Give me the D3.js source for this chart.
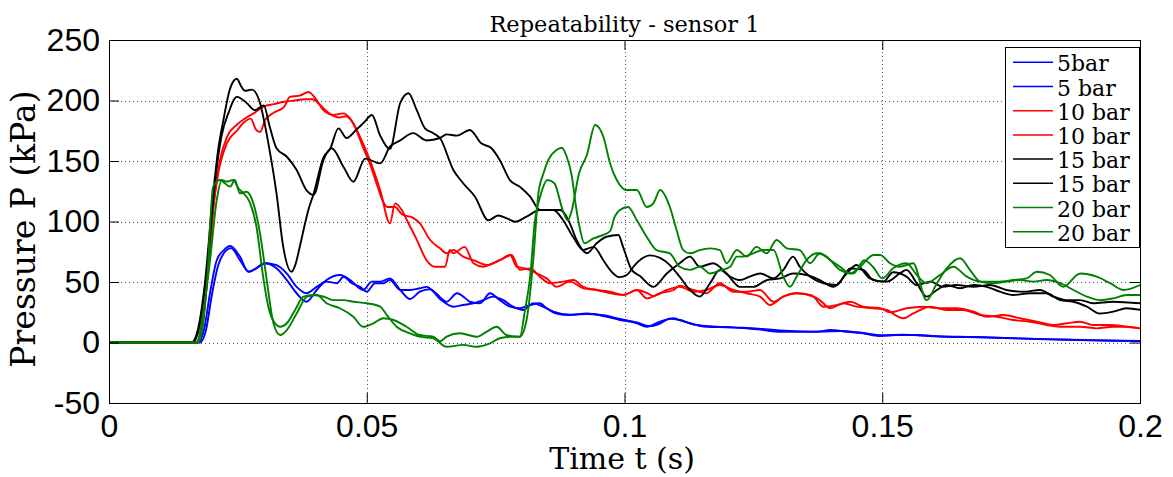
<!DOCTYPE html>
<html>
<head>
<meta charset="utf-8">
<script src="https://cdn.jsdelivr.net/npm/d3@7"></script>
<style>
body { margin: 0; background: #fff; }
.tick text { font-family: "Liberation Sans", Arial, sans-serif; font-size: 32px; fill: #000; }
.tick line { stroke: #000; }
.serif { font-family: "DejaVu Serif", serif; fill: #000; }
</style>
</head>
<body>
<svg id="chart" width="1173" height="477"></svg>
<script>
// axis ticks
var xTicks = [0, 0.05, 0.1, 0.15, 0.2];
var xTickLabels = ["0", "0.05", "0.1", "0.15", "0.2"];
var yTicks = [-50, 0, 50, 100, 150, 200, 250];
var yTickLabels = ["-50", "0", "50", "100", "150", "200", "250"];
var legendLabels = ["5bar", "5 bar", "10 bar", "10 bar", "15 bar", "15 bar", "20 bar", "20 bar"];

// [time (s), pressure (kPa)]
var blue1 = [[0,0],[0.0173,0],[0.0185,12],[0.0196,41],[0.0209,68],[0.0222,76],[0.0235,79.7],[0.0254,71],[0.0270,58.5],[0.0286,61.3],[0.0303,65.5],[0.0325,64],[0.0345,57],[0.0364,46],[0.0383,40.7],[0.0403,46],[0.0422,50.3],[0.0442,49],[0.0455,54.4],[0.0471,49],[0.0487,46],[0.0500,42],[0.0516,49],[0.0532,49],[0.0545,51.6],[0.0565,43.4],[0.0584,43.4],[0.0603,44.8],[0.0616,46],[0.0636,40],[0.0655,33.7],[0.0675,40.7],[0.0690,37],[0.0700,33.7],[0.0720,32.4],[0.0739,40.7],[0.0758,35],[0.0778,29.6],[0.0797,28.3],[0.0817,31],[0.0836,32.4],[0.0849,28.3],[0.0868,24],[0.0894,22.7],[0.0927,24],[0.0959,21.9],[0.0991,18.6],[0.1024,15.9],[0.1043,13],[0.1069,17.2],[0.1095,20],[0.1107,18.6],[0.1127,15.9],[0.1159,13],[0.1205,12.5],[0.1237,11.7],[0.1269,10.3],[0.1302,8.9],[0.1340,8.9],[0.1373,8.9],[0.1399,10.3],[0.1431,8.9],[0.1463,7.6],[0.1495,5.4],[0.1527,6.2],[0.1560,6.2],[0.1625,4.8],[0.1690,4.3],[0.1754,3.5],[0.1818,2.6],[0.1883,2],[0.1948,1.5],[0.2,1.2]];
var blue2 = [[0,0],[0.0176,0],[0.0188,10],[0.0199,38],[0.0212,64],[0.0225,75],[0.0237,78],[0.0254,68],[0.0272,58.5],[0.0303,65.5],[0.0325,61.3],[0.0345,51.6],[0.0364,40.7],[0.0383,33.7],[0.0403,43.4],[0.0422,51.6],[0.0448,55.8],[0.0468,51.6],[0.0493,43.4],[0.0510,50.3],[0.0526,50.3],[0.0545,53],[0.0565,43.4],[0.0584,36],[0.0603,42],[0.0622,44],[0.0642,36],[0.0668,29.6],[0.0687,31],[0.0707,32.4],[0.0726,35],[0.0745,37.9],[0.0765,35],[0.0784,29.6],[0.0804,26.9],[0.0823,32.4],[0.0842,29.6],[0.0862,25.5],[0.0894,23],[0.0927,23.5],[0.0959,22.5],[0.0991,19.5],[0.1024,16.5],[0.1049,13.5],[0.1068,15.5],[0.1088,19.5],[0.1107,18.6],[0.1133,15],[0.1165,13.5],[0.1211,12.5],[0.1260,11.5],[0.1300,10],[0.1340,9.2],[0.1380,9],[0.1420,9.5],[0.1460,8],[0.1500,6],[0.1540,6.5],[0.1600,5.2],[0.1680,4.5],[0.1750,3.6],[0.1820,2.8],[0.1900,2],[0.2,1.2]];
var red1 = [[0,0],[0.0168,0],[0.0180,12],[0.0192,60],[0.0202,110],[0.0212,140],[0.0229,165],[0.0248,175],[0.0262,182],[0.0275,185],[0.0285,176],[0.0293,174],[0.0303,184],[0.0320,190],[0.0340,195],[0.0351,203],[0.0370,204],[0.0387,207],[0.0400,202],[0.0416,192],[0.0435,188],[0.0455,189.4],[0.0468,185],[0.0487,170],[0.0506,151],[0.0526,126],[0.0545,98.5],[0.0555,115],[0.0568,109.5],[0.0578,101],[0.0597,85],[0.0616,68],[0.0632,62.6],[0.0652,62.6],[0.0661,76.4],[0.0668,73.7],[0.0690,79],[0.0707,65.5],[0.0726,62.6],[0.0745,65.5],[0.0765,69.6],[0.0781,72.3],[0.0797,60],[0.0817,61.3],[0.0836,54.4],[0.0855,49],[0.0881,50.3],[0.0901,51.6],[0.0920,46],[0.0946,43.4],[0.0972,42],[0.0998,39.3],[0.1024,43.4],[0.1043,36.5],[0.1069,40.7],[0.1095,43.4],[0.1107,47],[0.1134,43.4],[0.1159,40.7],[0.1185,49],[0.1211,42],[0.1237,42],[0.1263,43.4],[0.1289,33.7],[0.1308,37.9],[0.1334,40.7],[0.1360,39.3],[0.1379,35],[0.1399,28.3],[0.1425,32.4],[0.1450,29.6],[0.1483,28.3],[0.1509,26.9],[0.1528,22],[0.1541,20],[0.1560,24],[0.1593,29.6],[0.1625,26.9],[0.1657,26.9],[0.1690,22.7],[0.1722,21.3],[0.1754,18.6],[0.1787,17.2],[0.1819,14.5],[0.1851,13],[0.1884,13],[0.1916,11.7],[0.1948,13],[0.1974,13],[0.2,11.7]];
var red2 = [[0,0],[0.0170,0],[0.0182,15],[0.0194,70],[0.0204,118],[0.0215,150],[0.0229,170],[0.0248,180],[0.0267,186],[0.0283,190],[0.0300,195],[0.0320,197],[0.0340,199],[0.0360,200],[0.0380,201],[0.0395,201],[0.0410,196],[0.0425,190],[0.0445,186],[0.0460,187],[0.0475,180],[0.0492,162],[0.0510,143],[0.0520,130],[0.0540,112],[0.0555,112],[0.0568,106],[0.0590,103],[0.0603,98.5],[0.0623,84.7],[0.0642,77.8],[0.0655,73.7],[0.0668,76.4],[0.0687,71],[0.0707,68],[0.0733,64],[0.0758,68],[0.0778,72.3],[0.0791,62.6],[0.0810,61],[0.0830,57],[0.0849,53],[0.0868,46],[0.0894,50.3],[0.0920,44.8],[0.0946,43.4],[0.0972,40.7],[0.0998,39.3],[0.1024,43.4],[0.1043,41],[0.1056,38.4],[0.1082,43.4],[0.1107,46],[0.1134,42],[0.1159,43.4],[0.1185,47.5],[0.1211,43.4],[0.1237,40.7],[0.1263,37.9],[0.1282,31],[0.1308,37.9],[0.1334,40.7],[0.1366,37.9],[0.1386,29.6],[0.1412,31],[0.1438,33.7],[0.1463,29.6],[0.1496,28.3],[0.1515,25],[0.1547,28.3],[0.1580,29.6],[0.1612,28.3],[0.1644,28.3],[0.1677,25.5],[0.1703,21.3],[0.1735,22.7],[0.1767,20],[0.1800,17.2],[0.1832,14.5],[0.1858,15.9],[0.1884,17.2],[0.1909,14.5],[0.1942,14.5],[0.1974,13],[0.2,11.7]];
var black1 = [[0,0],[0.0160,0],[0.0172,10],[0.0185,45],[0.0202,123],[0.0212,160],[0.0222,184],[0.0235,210],[0.0248,218],[0.0256,212],[0.0264,208],[0.0277,209],[0.0293,198],[0.0300,185],[0.0309,165],[0.0325,123],[0.0338,79],[0.0354,58.5],[0.0362,65],[0.0370,79],[0.0387,110],[0.0397,123],[0.0416,153],[0.0429,160],[0.0445,177],[0.0461,169],[0.0480,176],[0.0495,182],[0.0510,188],[0.0526,171],[0.0545,160],[0.0565,198],[0.0581,206],[0.0597,192],[0.0613,177],[0.0629,173],[0.0642,169],[0.0668,142.6],[0.0687,131.6],[0.0710,120.5],[0.0736,101],[0.0755,105],[0.0772,102.6],[0.0788,99.8],[0.0810,104],[0.0836,109.5],[0.0862,109.5],[0.0881,101],[0.0900,87.4],[0.0920,76.4],[0.0940,79],[0.0959,68],[0.0972,60],[0.0990,54],[0.1005,56],[0.1020,64],[0.1036,70],[0.1049,72],[0.1069,70],[0.1088,64],[0.1107,54.4],[0.1127,43.4],[0.1146,37.9],[0.1166,49],[0.1185,60],[0.1205,54.4],[0.1224,51.6],[0.1243,54.4],[0.1263,57],[0.1289,53],[0.1308,60],[0.1327,71],[0.1340,62.6],[0.1360,54.4],[0.1386,49],[0.1412,47.5],[0.1438,61.3],[0.1463,60],[0.1483,51.6],[0.1509,50.3],[0.1534,57],[0.1547,60],[0.1567,49],[0.1586,37.9],[0.1606,43.4],[0.1625,47.5],[0.1651,44.8],[0.1677,47.5],[0.1703,46],[0.1728,42],[0.1754,39.3],[0.1787,40.7],[0.1819,40.7],[0.1845,35],[0.1871,33.7],[0.1897,29.6],[0.1922,24],[0.1948,25.5],[0.1974,28.3],[0.2,27]];
var black2 = [[0,0],[0.0162,0],[0.0175,12],[0.0190,60],[0.0205,130],[0.0218,170],[0.0232,190],[0.0248,203],[0.0267,198],[0.0283,192],[0.0300,196],[0.0312,178],[0.0325,160.5],[0.0345,153.5],[0.0364,142.6],[0.0383,126],[0.0397,122],[0.0416,150.8],[0.0432,160.5],[0.0455,145],[0.0474,132.9],[0.0497,152],[0.0526,148],[0.0545,161.8],[0.0565,167],[0.0590,173],[0.0616,167],[0.0642,169],[0.0655,172],[0.0675,171],[0.0700,175.6],[0.0722,164.6],[0.0742,160.5],[0.0758,150.8],[0.0778,134],[0.0797,128.8],[0.0817,120.5],[0.0836,109.5],[0.0856,109.5],[0.0875,109.5],[0.0894,98.5],[0.0907,84.7],[0.0927,73.7],[0.0946,82],[0.0965,87.4],[0.0988,88.8],[0.0998,78],[0.1014,60],[0.1030,55],[0.1056,46],[0.1082,57],[0.1107,65.5],[0.1127,71],[0.1146,62.6],[0.1172,65.5],[0.1198,57],[0.1224,46],[0.1250,46],[0.1276,51.6],[0.1302,53],[0.1327,57],[0.1353,55.8],[0.1379,51.6],[0.1405,46],[0.1431,57],[0.1450,64],[0.1476,53],[0.1502,50.3],[0.1521,58],[0.1547,54.4],[0.1567,47.5],[0.1593,50.3],[0.1618,46],[0.1644,47.5],[0.1677,46],[0.1709,47.5],[0.1741,43.4],[0.1774,42],[0.1806,43.4],[0.1832,37.9],[0.1858,35],[0.1884,35],[0.1909,32.4],[0.1948,33.7],[0.2,32.4]];
var green1 = [[0,0],[0.0170,0],[0.0183,25],[0.0196,68],[0.0209,117.8],[0.0219,134.3],[0.0228,133],[0.0241,134.3],[0.0251,127.4],[0.0261,123.3],[0.0274,115],[0.0286,95.7],[0.0299,54.4],[0.0309,29.6],[0.0322,15.9],[0.0332,13],[0.0345,15.9],[0.0361,26.9],[0.0377,37.9],[0.0397,39.3],[0.0416,38],[0.0435,35],[0.0455,35],[0.0474,33.7],[0.0500,32.4],[0.0526,29.6],[0.0539,22.7],[0.0558,13],[0.0584,7.6],[0.0603,4.8],[0.0629,3.5],[0.0655,-3.5],[0.0687,-2],[0.0713,-3.5],[0.0739,-0.7],[0.0758,3.5],[0.0781,4.8],[0.0797,4.8],[0.0810,18.6],[0.0823,68],[0.0833,123.3],[0.0843,140],[0.0852,150.8],[0.0868,159],[0.0878,161],[0.0888,153.5],[0.0898,137],[0.0906,112],[0.0914,93],[0.0922,82],[0.0940,86],[0.0959,89],[0.0972,92],[0.0981,104],[0.0991,109.5],[0.1007,112],[0.1024,101],[0.1043,87.4],[0.1062,76.4],[0.1088,73.7],[0.1107,62.6],[0.1127,60],[0.1146,62.6],[0.1166,57],[0.1185,59.5],[0.1205,62.6],[0.1218,71],[0.1230,71],[0.1250,73.7],[0.1269,76.4],[0.1289,76.4],[0.1308,54.4],[0.1321,46],[0.1334,54.4],[0.1353,68],[0.1373,73.7],[0.1392,71],[0.1418,60],[0.1444,57],[0.1465,68],[0.1483,62],[0.1500,53],[0.1521,61.3],[0.1547,65.5],[0.1567,55.8],[0.1586,49],[0.1612,55.8],[0.1638,62.6],[0.1664,54.4],[0.1690,50.3],[0.1722,50.3],[0.1754,51.6],[0.1780,53],[0.1800,58.5],[0.1825,55.8],[0.1851,46],[0.1884,57],[0.1916,54.4],[0.1942,49],[0.1968,43.4],[0.2,47.5]];
var green2 = [[0,0],[0.0172,0],[0.0180,8],[0.0190,50],[0.0202,128.8],[0.0215,134.3],[0.0235,128.8],[0.0244,134.3],[0.0254,123.3],[0.0267,124.6],[0.0280,115],[0.0293,90],[0.0306,51.6],[0.0319,15.9],[0.0332,6.2],[0.0345,10.3],[0.0364,24],[0.0384,37.9],[0.0403,39.3],[0.0422,32.4],[0.0448,28.3],[0.0474,21.3],[0.0493,13],[0.0513,15.9],[0.0532,20],[0.0552,18.6],[0.0577,13],[0.0603,6.2],[0.0629,4.8],[0.0642,1],[0.0655,4.8],[0.0681,7.6],[0.0713,4.8],[0.0733,9],[0.0752,13],[0.0771,6.2],[0.0797,4.8],[0.0807,26.9],[0.0817,54.4],[0.0826,100],[0.0836,120],[0.0851,134.3],[0.0864,131.6],[0.0880,109.5],[0.0890,101],[0.0897,108],[0.0912,140],[0.0927,155],[0.0943,179.8],[0.0959,170],[0.0972,148],[0.0985,134.3],[0.1004,126],[0.1024,126],[0.1043,112],[0.1056,115],[0.1069,126],[0.1088,112],[0.1101,93],[0.1114,76.4],[0.1127,73.7],[0.1146,76.4],[0.1166,77.8],[0.1185,76.4],[0.1198,65.5],[0.1218,76.4],[0.1237,71],[0.1256,79],[0.1276,73.7],[0.1295,84.7],[0.1315,77.8],[0.1340,76.4],[0.1360,65.5],[0.1379,73.7],[0.1399,68],[0.1418,62.6],[0.1438,57],[0.1457,62.6],[0.1483,72.3],[0.1496,72.3],[0.1515,65.5],[0.1534,62.6],[0.1560,65.5],[0.1586,35],[0.1606,49],[0.1625,61.3],[0.1651,69.6],[0.1670,60],[0.1690,50.3],[0.1715,49],[0.1741,50.3],[0.1767,51.6],[0.1793,50.3],[0.1819,51.6],[0.1845,49],[0.1871,43.4],[0.1897,37.9],[0.1922,35],[0.1948,36.5],[0.1974,39.3],[0.2,39.3]];

var series = [blue1, blue2, red1, red2, black1, black2, green1, green2];
var colors = ["#0000ff", "#0000ff", "#ff0000", "#ff0000", "#000000", "#000000", "#008000", "#008000"];

var svg = d3.select("#chart");
var plotL = 109, plotR = 1140, plotT = 40, plotB = 403;

var x = d3.scaleLinear().domain([0, 0.2]).range([plotL, plotR]);
var y = d3.scaleLinear().domain([-50, 250]).range([plotB, plotT]);

svg.append("rect").attr("width", 1173).attr("height", 477).attr("fill", "#fff");

// dotted grid
var grid = svg.append("g").attr("stroke", "#555").attr("stroke-width", 1).attr("stroke-dasharray", "1,3");
grid.selectAll(".gx").data(xTicks.slice(1, -1)).enter().append("line")
	.attr("x1", function(d){ return Math.round(x(d)) + 0.5; })
	.attr("x2", function(d){ return Math.round(x(d)) + 0.5; })
	.attr("y1", plotT).attr("y2", plotB);
grid.selectAll(".gy").data(yTicks.slice(1, -1)).enter().append("line")
	.attr("y1", function(d){ return Math.round(y(d)) + 0.5; })
	.attr("y2", function(d){ return Math.round(y(d)) + 0.5; })
	.attr("x1", plotL).attr("x2", plotR);

// curves, clipped to the axes box
svg.append("clipPath").attr("id", "clip").append("rect")
	.attr("x", plotL).attr("y", plotT).attr("width", plotR - plotL).attr("height", plotB - plotT);

var line = d3.line()
	.x(function(d){ return x(d[0]); })
	.y(function(d){ return y(d[1]); })
	.curve(d3.curveMonotoneX);

svg.append("g").attr("clip-path", "url(#clip)")
	.selectAll("path").data(series).enter().append("path")
	.attr("d", line)
	.attr("fill", "none")
	.attr("stroke", function(d, i){ return colors[i]; })
	.attr("stroke-width", 1.9)
	.attr("stroke-linejoin", "round");

// axes, ticks pointing inward
var xAxis = d3.axisBottom(x).tickValues(xTicks)
	.tickFormat(function(d, i){ return xTickLabels[i]; })
	.tickSizeInner(-10).tickSizeOuter(0).tickPadding(11);
var yAxis = d3.axisLeft(y).tickValues(yTicks)
	.tickFormat(function(d, i){ return yTickLabels[i]; })
	.tickSizeInner(-10).tickSizeOuter(0).tickPadding(9);

svg.append("g").attr("transform", "translate(0," + plotB + ")").call(xAxis);
svg.append("g").attr("transform", "translate(" + plotL + ",0)").call(yAxis);
svg.append("g").attr("transform", "translate(0," + plotT + ")")
	.call(d3.axisTop(x).tickValues(xTicks).tickFormat("").tickSizeInner(-10).tickSizeOuter(0));
svg.append("g").attr("transform", "translate(" + plotR + ",0)")
	.call(d3.axisRight(y).tickValues(yTicks).tickFormat("").tickSizeInner(-10).tickSizeOuter(0));
svg.selectAll(".domain").remove();

svg.append("rect")
	.attr("x", plotL + 0.5).attr("y", plotT + 0.5)
	.attr("width", plotR - plotL).attr("height", plotB - plotT)
	.attr("fill", "none").attr("stroke", "#000").attr("stroke-width", 1);

// title and axis labels
svg.append("text").attr("class", "serif")
	.attr("x", (plotL + plotR) / 2).attr("y", 32)
	.attr("text-anchor", "middle").attr("font-size", 22.5)
	.text("Repeatability - sensor 1");

svg.append("text").attr("class", "serif")
	.attr("x", 622).attr("y", 469)
	.attr("text-anchor", "middle").attr("font-size", 30)
	.text("Time t (s)");

svg.append("text").attr("class", "serif")
	.attr("transform", "translate(35,229) rotate(-90)")
	.attr("text-anchor", "middle").attr("font-size", 33)
	.text("Pressure P (kPa)");

// legend
var lg = svg.append("g");
lg.append("rect")
	.attr("x", 1005.5).attr("y", 47.5).attr("width", 134).attr("height", 200)
	.attr("fill", "#fff").attr("stroke", "#000").attr("stroke-width", 1);

var rows = lg.selectAll(".row").data(legendLabels).enter().append("g")
	.attr("transform", function(d, i){ return "translate(0," + (62.3 + i * 24.2) + ")"; });
rows.append("line")
	.attr("x1", 1013).attr("x2", 1053).attr("y1", 0).attr("y2", 0)
	.attr("stroke", function(d, i){ return colors[i]; })
	.attr("stroke-width", 1.5);
rows.append("text").attr("class", "serif")
	.attr("x", 1057).attr("y", 9).attr("font-size", 22)
	.text(function(d){ return d; });
</script>
</body>
</html>
